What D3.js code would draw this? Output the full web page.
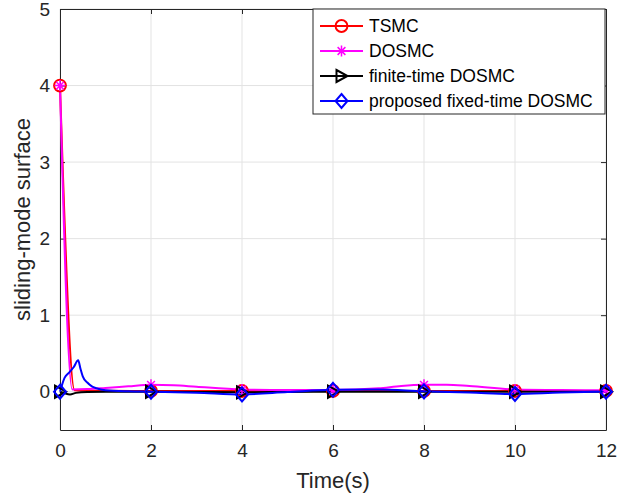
<!DOCTYPE html>
<html>
<head>
<meta charset="utf-8">
<script src="https://cdn.jsdelivr.net/npm/d3@7"></script>
<style>
  html, body { margin: 0; padding: 0; background: #fff; }
  svg { display: block; font-family: "Liberation Sans", Arial, Helvetica, sans-serif; }
</style>
</head>
<body>
<svg id="chart" width="624" height="494"></svg>
<script>
// Sliding-mode surface trajectories for four controllers
const tsmcT   = [0, 0.32, 0.5, 1, 2, 4, 6, 8, 10, 12];
const tsmcS   = [4, 0.02, 0.015, 0.012, 0.01, 0.01, 0.01, 0.01, 0.01, 0.01];

const dosmcT  = [0, 0.27, 0.6, 1, 1.5, 2, 2.5, 3, 4, 5, 6, 7, 7.5, 8, 8.5, 9, 10, 11, 12];
const dosmcS  = [4, 0.03, 0.035, 0.05, 0.07, 0.09, 0.085, 0.065, 0.03, 0.022, 0.022, 0.045, 0.075, 0.09, 0.092, 0.075, 0.03, 0.022, 0.02];

const finiteT = [0, 0.1, 0.22, 0.35, 0.6, 1, 2, 3, 4, 5, 6, 8, 10, 12];
const finiteS = [0, -0.02, -0.035, -0.015, -0.003, 0, 0, -0.003, -0.008, -0.002, 0, 0, 0, 0];

const fixedT  = [0, 0.05, 0.1, 0.2, 0.3, 0.4, 0.45, 0.5, 0.6, 0.7, 0.8, 1, 1.5, 2, 3, 4, 5, 6, 7, 8, 9, 10, 11, 12];
const fixedS  = [0, 0.1, 0.18, 0.25, 0.32, 0.41, 0.3, 0.2, 0.12, 0.07, 0.045, 0.02, 0.005, 0, -0.012, -0.035, -0.005, 0.025, 0.03, 0.005, -0.01, -0.03, -0.01, 0];

const markerT = [0, 2, 4, 6, 8, 10, 12];

const seriesNames = ["TSMC", "DOSMC", "finite-time DOSMC", "proposed fixed-time DOSMC"];
const seriesColors = ["#ff0000", "#ff00ff", "#000000", "#0000ff"];
const seriesMarkers = ["circle", "star", "triangle", "diamond"];

const xTicks = [0, 2, 4, 6, 8, 10, 12];
const yTicks = [0, 1, 2, 3, 4, 5];

const series = [
  { t: tsmcT, s: tsmcS },
  { t: dosmcT, s: dosmcS },
  { t: finiteT, s: finiteS },
  { t: fixedT, s: fixedS }
].map((d, i) => ({
  name: seriesNames[i],
  color: seriesColors[i],
  marker: seriesMarkers[i],
  points: d.t.map((t, j) => ({ t, s: d.s[j] }))
}));

const svg = d3.select("#chart");
const m = { left: 60, right: 18, top: 9, bottom: 64 };
const W = 624, H = 494;
const x = d3.scaleLinear().domain([0, 12]).range([m.left, W - m.right]);
const y = d3.scaleLinear().domain([-0.5, 5]).range([H - m.bottom, m.top]);

const axisColor = "#262626";
const gridColor = "#e3e3e3";
const fmt = d3.format("d");

// grid
const g = svg.append("g");
g.selectAll(".gx").data(xTicks).enter().append("line")
  .attr("x1", d => x(d)).attr("x2", d => x(d))
  .attr("y1", y(-0.5)).attr("y2", y(5))
  .attr("stroke", gridColor).attr("stroke-width", 1);
g.selectAll(".gy").data(yTicks).enter().append("line")
  .attr("x1", x(0)).attr("x2", x(12))
  .attr("y1", d => y(d)).attr("y2", d => y(d))
  .attr("stroke", gridColor).attr("stroke-width", 1);

// axes
const xAxis = svg.append("g").attr("transform", `translate(0,${y(-0.5)})`)
  .call(d3.axisBottom(x).tickValues(xTicks).tickFormat(fmt).tickSizeInner(-5).tickSizeOuter(0).tickPadding(14));
const yAxis = svg.append("g").attr("transform", `translate(${x(0)},0)`)
  .call(d3.axisLeft(y).tickValues(yTicks).tickFormat(fmt).tickSizeInner(-5).tickSizeOuter(0).tickPadding(10));
const xTop = svg.append("g").attr("transform", `translate(0,${y(5)})`)
  .call(d3.axisTop(x).tickValues(xTicks).tickSizeInner(-5).tickSizeOuter(0).tickFormat(""));
const yRight = svg.append("g").attr("transform", `translate(${x(12)},0)`)
  .call(d3.axisRight(y).tickValues(yTicks).tickSizeInner(-5).tickSizeOuter(0).tickFormat(""));
[xAxis, yAxis, xTop, yRight].forEach(a => {
  a.selectAll("path").attr("stroke", axisColor).attr("stroke-width", 1);
  a.selectAll("line").attr("stroke", axisColor).attr("stroke-width", 1);
  a.selectAll("text").attr("fill", axisColor).style("font-size", "19px")
    .style("font-family", "'Liberation Sans', Arial, sans-serif");
});

// axis labels
svg.append("text").attr("x", (x(0) + x(12)) / 2).attr("y", 488)
  .attr("text-anchor", "middle").attr("fill", axisColor)
  .style("font-size", "22px").text("Time(s)");
svg.append("text")
  .attr("transform", `translate(30,${(y(-0.5) + y(5)) / 2}) rotate(-90)`)
  .attr("text-anchor", "middle").attr("fill", axisColor)
  .style("font-size", "22px").text("sliding-mode surface");

// marker shapes
function markerPath(type) {
  switch (type) {
    case "circle": return d3.symbol().type(d3.symbolCircle).size(110)();
    case "triangle": return "M-5,-6L6,0L-5,6Z";
    case "diamond": return "M0,-7L6,0L0,7L-6,0Z";
    default: return null;
  }
}
function drawMarker(sel, type, color) {
  if (type === "star") {
    const r = 5.5;
    const p = [];
    [0, 45, 90, 135].forEach(a => {
      const rad = a * Math.PI / 180;
      p.push(`M${-r * Math.cos(rad)},${-r * Math.sin(rad)}L${r * Math.cos(rad)},${r * Math.sin(rad)}`);
    });
    sel.append("path").attr("d", p.join("")).attr("stroke", color).attr("stroke-width", 1.5).attr("fill", "none");
  } else {
    sel.append("path").attr("d", markerPath(type)).attr("stroke", color)
      .attr("stroke-width", 2).attr("fill", "none");
  }
}

// lines
const line = d3.line().x(d => x(d.t)).y(d => y(d.s)).curve(d3.curveMonotoneX);
const plot = svg.append("g");
series.forEach(sr => {
  plot.append("path").datum(sr.points).attr("d", line)
    .attr("fill", "none").attr("stroke", sr.color).attr("stroke-width", 2)
    .attr("stroke-linejoin", "round");
});
// markers at sample instants
const interp = (pts, t) => {
  const ts = pts.map(p => p.t);
  const i = d3.bisectLeft(ts, t);
  if (ts[i] === t) return pts[i].s;
  const a = pts[i - 1], b = pts[i];
  return a.s + (b.s - a.s) * (t - a.t) / (b.t - a.t);
};
series.forEach(sr => {
  markerT.forEach(t => {
    const mg = plot.append("g").attr("transform", `translate(${x(t)},${y(interp(sr.points, t))})`);
    drawMarker(mg, sr.marker, sr.color);
  });
});

// legend
const lg = svg.append("g").attr("transform", "translate(313,9)");
lg.append("rect").attr("width", 292).attr("height", 105)
  .attr("fill", "#fff").attr("stroke", axisColor).attr("stroke-width", 1);
series.forEach((sr, i) => {
  const cy = 17 + i * 25;
  lg.append("line").attr("x1", 7).attr("x2", 50).attr("y1", cy).attr("y2", cy)
    .attr("stroke", sr.color).attr("stroke-width", 2);
  const mg = lg.append("g").attr("transform", `translate(28.5,${cy})`);
  drawMarker(mg, sr.marker, sr.color);
  lg.append("text").attr("x", 56).attr("y", cy + 6).attr("fill", "#000")
    .style("font-size", "17.5px").text(sr.name);
});
</script>
</body>
</html>
